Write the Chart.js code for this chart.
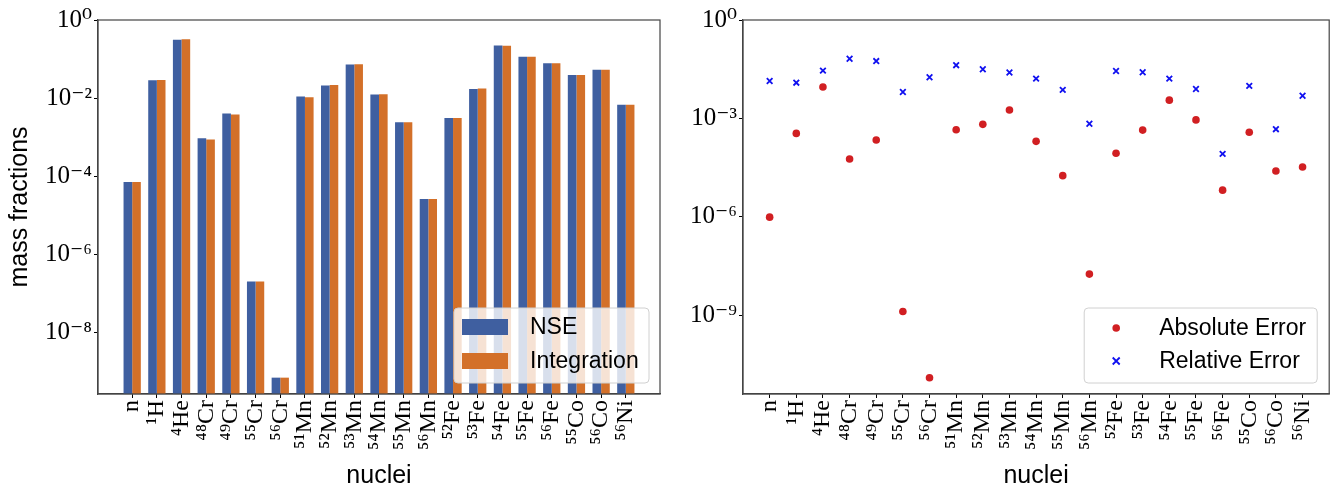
<!DOCTYPE html>
<html>
<head>
<meta charset="utf-8">
<script src="https://cdn.jsdelivr.net/npm/chart.js@4.4.1/dist/chart.umd.min.js"></script>
<style>
  body { margin: 0; background: #fff; }
  #left { position: absolute; left: 0; top: 0; }
  #right { position: absolute; left: 670px; top: 0; }
</style>
</head>
<body>
<canvas id="left" width="670" height="492"></canvas>
<canvas id="right" width="665" height="492"></canvas>
<script>
// nuclei on the x axis
var nuclei = ["n", "¹H", "⁴He", "⁴⁸Cr", "⁴⁹Cr", "⁵⁵Cr", "⁵⁶Cr", "⁵¹Mn", "⁵²Mn", "⁵³Mn", "⁵⁴Mn",
  "⁵⁵Mn", "⁵⁶Mn", "⁵²Fe", "⁵³Fe", "⁵⁴Fe", "⁵⁵Fe", "⁵⁶Fe", "⁵⁵Co", "⁵⁶Co", "⁵⁶Ni"];

// mass fractions
var nse = [7.1e-5, 0.0285, 0.312, 9.3e-4, 4.0e-3, 2.0e-7, 6.9e-10, 0.0109, 0.0209, 0.072, 0.0123,
  0.0024, 2.6e-5, 3.1e-3, 0.0172, 0.222, 0.114, 0.078, 0.039, 0.053, 0.0067];
var integration = [7.1e-5, 0.0289, 0.321, 8.7e-4, 3.78e-3, 2.0e-7, 6.9e-10, 0.01045, 0.0216, 0.0738, 0.0125,
  0.0024, 2.6e-5, 3.1e-3, 0.0176, 0.2184, 0.115, 0.078, 0.039, 0.053, 0.0067];

// errors
var absError = [9.8e-7, 3.5e-4, 9.1e-3, 5.8e-5, 2.2e-4, 1.3e-9, 1.25e-11, 4.5e-4, 6.6e-4, 1.8e-3, 2.0e-4,
  1.8e-5, 1.8e-8, 8.7e-5, 4.4e-4, 3.6e-3, 9.0e-4, 6.5e-6, 3.8e-4, 2.5e-5, 3.3e-5];
var relError = [0.0138, 0.0123, 0.0287, 0.066, 0.056, 0.0064, 0.018, 0.042, 0.0316, 0.025, 0.0163,
  0.0074, 6.9e-4, 0.028, 0.0256, 0.0163, 0.0079, 8.3e-5, 0.0098, 4.7e-4, 0.0049];

// y tick values / labels
var leftTicks = [1e-8, 1e-6, 1e-4, 1e-2, 1];
var leftTickLabels = ["10⁻⁸", "10⁻⁶", "10⁻⁴", "10⁻²", "10⁰"];
var rightTicks = [1e-9, 1e-6, 1e-3, 1];
var rightTickLabels = ["10⁻⁹", "10⁻⁶", "10⁻³", "10⁰"];

var serif = "'Liberation Serif', 'DejaVu Serif', serif";
var sans = "'Liberation Sans', Arial, sans-serif";

function pts(arr) {
  return arr.map(function (v, i) { return { x: i, y: v }; });
}

// full box around the plot area
var frame = {
  id: "frame",
  afterDatasetsDraw: function (chart) {
    var a = chart.chartArea, ctx = chart.ctx;
    ctx.save();
    ctx.strokeStyle = "#444";
    ctx.lineWidth = 1.2;
    ctx.strokeRect(a.left, a.top, a.right - a.left, a.bottom - a.top);
    ctx.restore();
  }
};

// matplotlib-like legend in the lower right corner
var legendBox = {
  id: "legendBox",
  afterDraw: function (chart, args, o) {
    var ctx = chart.ctx, a = chart.chartArea;
    var x = a.right - o.right - o.w, y = a.bottom - o.bottom - o.h;
    ctx.save();
    ctx.beginPath();
    ctx.roundRect(x, y, o.w, o.h, 4);
    ctx.fillStyle = "rgba(255,255,255,0.8)";
    ctx.fill();
    ctx.strokeStyle = "#d0d0d0";
    ctx.lineWidth = 1;
    ctx.stroke();
    chart.data.datasets.forEach(function (ds, i) {
      var cy = y + o.first + i * o.gap;
      var mx = x + o.markX;
      if (chart.config.type === "bar") {
        ctx.fillStyle = ds.backgroundColor;
        ctx.fillRect(mx, cy - 8, 46, 16);
      } else if (ds.pointStyle === "crossRot") {
        ctx.strokeStyle = ds.borderColor;
        ctx.lineWidth = ds.borderWidth;
        ctx.beginPath();
        ctx.moveTo(mx - 3.5, cy - 3.5); ctx.lineTo(mx + 3.5, cy + 3.5);
        ctx.moveTo(mx - 3.5, cy + 3.5); ctx.lineTo(mx + 3.5, cy - 3.5);
        ctx.stroke();
      } else {
        ctx.fillStyle = ds.backgroundColor;
        ctx.beginPath();
        ctx.arc(mx, cy, ds.pointRadius, 0, Math.PI * 2);
        ctx.fill();
      }
      ctx.fillStyle = "#000";
      ctx.font = "23px " + sans;
      ctx.textBaseline = "middle";
      ctx.fillText(ds.label, x + o.textX, cy + 1);
    });
    ctx.restore();
  }
};

function xAxis(min, max, height) {
  return {
    type: "linear",
    offset: false,
    min: min,
    max: max,
    afterBuildTicks: function (axis) {
      axis.ticks = nuclei.map(function (n, i) { return { value: i }; });
    },
    afterFit: function (scale) { scale.height = height; },
    grid: { display: true, offset: false, drawOnChartArea: false, drawTicks: true, tickLength: 4, tickColor: "#000" },
    border: { display: true, color: "#444", width: 1.2 },
    ticks: {
      autoSkip: false,
      maxRotation: 90,
      minRotation: 90,
      padding: 2,
      color: "#000",
      font: { family: serif, size: 24 },
      callback: function (v) { return nuclei[v]; }
    },
    title: {
      display: true,
      text: "nuclei",
      color: "#000",
      font: { family: sans, size: 25 },
      padding: { top: 0, bottom: 1 }
    }
  };
}

function yAxis(min, ticks, labels, width, title) {
  return {
    type: "logarithmic",
    min: min,
    max: 1,
    afterBuildTicks: function (axis) {
      axis.ticks = ticks.map(function (v) { return { value: v }; });
    },
    afterFit: function (scale) { scale.width = width; },
    grid: { display: true, drawOnChartArea: false, drawTicks: true, tickLength: 4, tickColor: "#000" },
    border: { display: true, color: "#444", width: 1.2 },
    ticks: {
      autoSkip: false,
      padding: 2,
      color: "#000",
      font: { family: serif, size: 25 },
      callback: function (v, i) { return labels[i]; }
    },
    title: {
      display: !!title,
      text: title || "",
      color: "#000",
      font: { family: sans, size: 25 },
      padding: { top: 5, bottom: 0 }
    }
  };
}

new Chart(document.getElementById("left").getContext("2d"), {
  type: "bar",
  data: {
    datasets: [
      { label: "NSE", data: pts(nse), backgroundColor: "#3f5fa0" },
      { label: "Integration", data: pts(integration), backgroundColor: "#d37029" }
    ]
  },
  options: {
    responsive: false,
    animation: false,
    layout: { padding: { top: 20, right: 10, left: 0, bottom: 0 } },
    datasets: { bar: { categoryPercentage: 0.7, barPercentage: 1.0 } },
    scales: {
      x: xAxis(-1.385, 21.385, 98),
      y: yAxis(Math.pow(10, -9.58), leftTicks, leftTickLabels, 98, "mass fractions")
    },
    plugins: {
      legend: { display: false },
      tooltip: { enabled: false },
      legendBox: { right: 11, bottom: 11, w: 195, h: 75, first: 19, gap: 34, markX: 8, textX: 76 }
    }
  },
  plugins: [frame, legendBox]
});

new Chart(document.getElementById("right").getContext("2d"), {
  type: "scatter",
  data: {
    datasets: [
      { label: "Absolute Error", data: pts(absError), backgroundColor: "#d11f22", borderColor: "#d11f22",
        pointStyle: "circle", pointRadius: 3.8, borderWidth: 0 },
      { label: "Relative Error", data: pts(relError), backgroundColor: "#1010f0", borderColor: "#1010f0",
        pointStyle: "crossRot", pointRadius: 4, borderWidth: 1.8 }
    ]
  },
  options: {
    responsive: false,
    animation: false,
    layout: { padding: { top: 20, right: 1, left: 0, bottom: 0 } },
    scales: {
      x: xAxis(-1, 21, 98),
      y: yAxis(Math.pow(10, -11.4), rightTicks, rightTickLabels, 73, null)
    },
    plugins: {
      legend: { display: false },
      tooltip: { enabled: false },
      legendBox: { right: 12, bottom: 11, w: 233, h: 75, first: 20, gap: 33, markX: 32, textX: 75 }
    }
  },
  plugins: [frame, legendBox]
});
</script>
</body>
</html>
